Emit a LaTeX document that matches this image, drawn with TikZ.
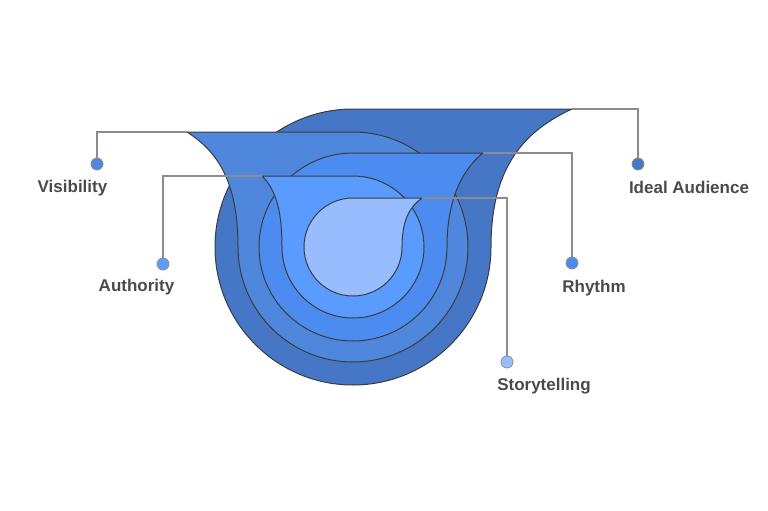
\documentclass[tikz,border=0pt]{standalone}
\usepackage{fontspec}
\setmainfont{Liberation Sans}
\definecolor{cA}{HTML}{4676C6}
\definecolor{cB}{HTML}{4F87DD}
\definecolor{cC}{HTML}{4C8CF0}
\definecolor{cD}{HTML}{5A9BFF}
\definecolor{cE}{HTML}{97BDFF}
\definecolor{edge}{HTML}{3C3C3C}
\definecolor{lead}{HTML}{8C8C8C}
\definecolor{txt}{HTML}{4A4A4A}
\begin{document}
\begin{tikzpicture}[x=1pt,y=1pt,
  layer/.style={draw=edge,line width=1pt,line join=round},
  leader/.style={draw=lead,line width=1.1pt},
  dot/.style={circle,draw=lead,line width=0.8pt,minimum size=12pt,inner sep=0pt},
  lbl/.style={anchor=base,font=\bfseries\fontsize{17}{20}\selectfont,text=txt,inner sep=0pt}]
\useasboundingbox (0,0) rectangle (768,-511);
% shapes
\path[layer,fill=cA] (353,-109) -- (572,-109) .. controls (527,-130) and (491,-164) .. (491,-247)
  arc[start angle=0,end angle=-270,radius=138] -- cycle;
\path[layer,fill=cB] (353,-132) -- (187,-132) .. controls (215,-150) and (238,-178) .. (238,-247)
  arc[start angle=180,end angle=450,radius=115] -- cycle;
\path[layer,fill=cC] (353,-153) -- (483,-153) .. controls (468,-165) and (447,-191) .. (447,-247)
  arc[start angle=0,end angle=-270,radius=94] -- cycle;
\path[layer,fill=cD] (353,-176) -- (262,-176) .. controls (273,-187) and (282,-204) .. (282,-247)
  arc[start angle=180,end angle=450,radius=71] -- cycle;
\path[layer,fill=cE] (353,-198) -- (422,-198) .. controls (411,-206) and (402,-218) .. (402,-247)
  arc[start angle=0,end angle=-270,radius=49] -- cycle;
% corners
\coordinate (tA) at (572,-109);
\coordinate (tB) at (187,-132);
\coordinate (tC) at (483,-153);
\coordinate (tD) at (262,-176);
\coordinate (tE) at (422,-198);
% dots
\node[dot,fill=cA] (dA) at (638,-164) {};
\node[dot,fill=cB] (dB) at (97,-164) {};
\node[dot,fill=cC] (dC) at (572,-263) {};
\node[dot,fill=cD] (dD) at (163,-264) {};
\node[dot,fill=cE] (dE) at (507,-362) {};
% leaders
\draw[leader] (tA) -| (dA);
\draw[leader] (tB) -| (dB);
\draw[leader] (tC) -| (dC);
\draw[leader] (tD) -| (dD);
\draw[leader] (tE) -| (dE);
% labels
\node[lbl] (lA) at (689,-193) {Ideal Audience};
\node[lbl] (lB) at (72.5,-192) {Visibility};
\node[lbl] (lC) at (594,-292) {Rhythm};
\node[lbl] (lD) at (136.5,-291) {Authority};
\node[lbl] (lE) at (544,-390) {Storytelling};
\end{tikzpicture}
\end{document}
